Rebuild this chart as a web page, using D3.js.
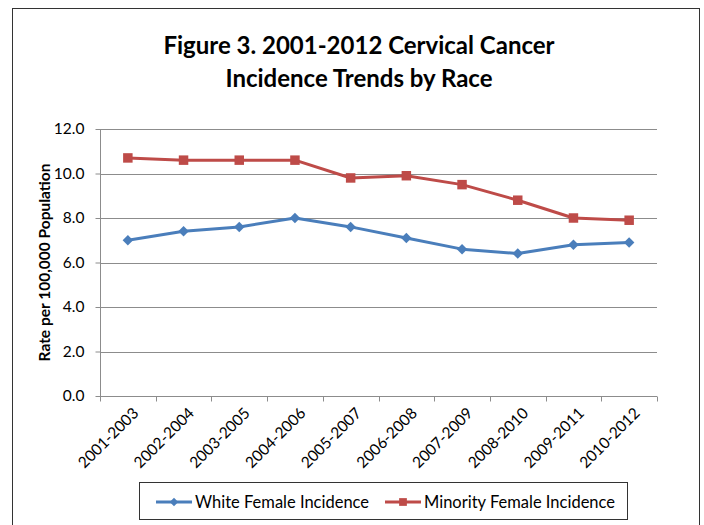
<!DOCTYPE html>
<html>
<head>
<meta charset="utf-8">
<script src="https://cdn.jsdelivr.net/npm/d3@7"></script>
<style>
  html, body { margin: 0; padding: 0; background: #fff; }
  svg { display: block; font-family: Lato, "Open Sans", sans-serif; }
</style>
</head>
<body>
<svg id="chart" width="704" height="525"></svg>
<script>
// Three-year rolling periods
const periods = ["2001-2003", "2002-2004", "2003-2005", "2004-2006", "2005-2007",
                 "2006-2008", "2007-2009", "2008-2010", "2009-2011", "2010-2012"];
// Incidence per 100,000
const whiteIncidence    = [7.0, 7.4, 7.6, 8.0, 7.6, 7.1, 6.6, 6.4, 6.8, 6.9];
const minorityIncidence = [10.7, 10.6, 10.6, 10.6, 9.8, 9.9, 9.5, 8.8, 8.0, 7.9];
const yTicks = [0, 2, 4, 6, 8, 10, 12];
const seriesNames = ["White Female Incidence", "Minority Female Incidence"];

const svg = d3.select("#chart");
const margin = { left: 100, right: 657, top: 129, bottom: 396 };

// Outer frame
svg.append("rect")
  .attr("x", 12.5).attr("y", 8.5).attr("width", 687).attr("height", 530)
  .attr("fill", "none").attr("stroke", "#333").attr("stroke-width", 1);

// Title
const title = svg.append("text")
  .attr("text-anchor", "middle")
  .attr("font-weight", "bold")
  .attr("font-size", 24)
  .attr("fill", "#000");
title.append("tspan").attr("x", 359).attr("y", 54).text("Figure 3. 2001-2012 Cervical Cancer");
title.append("tspan").attr("x", 359).attr("y", 87).text("Incidence Trends by Race");

const x = d3.scaleBand().domain(periods).range([margin.left, margin.right]);
const y = d3.scaleLinear().domain([0, 12]).range([margin.bottom, margin.top]);

// Horizontal gridlines
svg.append("g")
  .selectAll("line")
  .data(yTicks.filter(d => d > 0))
  .join("line")
  .attr("x1", margin.left).attr("x2", margin.right)
  .attr("y1", d => Math.round(y(d)) + 0.5).attr("y2", d => Math.round(y(d)) + 0.5)
  .attr("stroke", "#8c8c8c").attr("stroke-width", 1);

// Y axis
const yAxis = svg.append("g")
  .attr("transform", `translate(${margin.left + 0.5},0)`)
  .call(d3.axisLeft(y).tickValues(yTicks).tickFormat(d3.format(".1f")).tickSize(5).tickPadding(11));
yAxis.select(".domain").attr("stroke", "#8c8c8c").attr("d", `M0,${margin.top}V${margin.bottom}`);
yAxis.selectAll(".tick line").attr("stroke", "#8c8c8c");
yAxis.selectAll(".tick text").attr("font-size", 15.5).attr("fill", "#000")
  .attr("font-family", "Lato, sans-serif");

// X axis with ticks on category boundaries
const xg = svg.append("g")
  .attr("transform", `translate(0,${Math.round(y(0)) + 0.5})`);
xg.append("line")
  .attr("x1", margin.left).attr("x2", margin.right)
  .attr("stroke", "#8c8c8c");
const boundaries = periods.map(p => x(p)).concat([margin.right]);
xg.selectAll("line.tk")
  .data(boundaries)
  .join("line")
  .attr("class", "tk")
  .attr("x1", d => Math.round(d) + 0.5).attr("x2", d => Math.round(d) + 0.5)
  .attr("y1", 0).attr("y2", 5)
  .attr("stroke", "#8c8c8c");
xg.selectAll("text")
  .data(periods)
  .join("text")
  .attr("text-anchor", "end")
  .attr("font-size", 15.5)
  .attr("fill", "#000")
  .attr("transform", d => `translate(${x(d) + x.bandwidth() / 2 + 4},${10}) rotate(-45)`)
  .attr("dy", "0.7em")
  .text(d => d);

// Y axis title
svg.append("text")
  .attr("transform", `translate(50,${(margin.top + margin.bottom) / 2}) rotate(-90)`)
  .attr("text-anchor", "middle")
  .attr("font-weight", "bold")
  .attr("font-size", 15.5)
  .attr("fill", "#000")
  .text("Rate per 100,000 Population");

const cx = d => x(d) + x.bandwidth() / 2;
const line = d3.line().x((v, i) => cx(periods[i])).y(v => y(v));

const colors = ["#4a7ebb", "#be4b48"];
const diamond = d3.symbol().type(d3.symbolDiamond2).size(70);
const square = d3.symbol().type(d3.symbolSquare).size(90);

// White series
svg.append("path").datum(whiteIncidence)
  .attr("d", line).attr("fill", "none")
  .attr("stroke", colors[0]).attr("stroke-width", 3).attr("stroke-linejoin", "round");
svg.append("g").selectAll("path").data(whiteIncidence).join("path")
  .attr("transform", (v, i) => `translate(${cx(periods[i])},${y(v)})`)
  .attr("d", diamond).attr("fill", colors[0]);

// Minority series
svg.append("path").datum(minorityIncidence)
  .attr("d", line).attr("fill", "none")
  .attr("stroke", colors[1]).attr("stroke-width", 3).attr("stroke-linejoin", "round");
svg.append("g").selectAll("path").data(minorityIncidence).join("path")
  .attr("transform", (v, i) => `translate(${cx(periods[i])},${y(v)})`)
  .attr("d", square).attr("fill", colors[1]);

// Legend
const lg = svg.append("g");
lg.append("rect")
  .attr("x", 139.5).attr("y", 482.5).attr("width", 488).attr("height", 37)
  .attr("fill", "#fff").attr("stroke", "#333").attr("stroke-width", 1);
const items = [
  { name: seriesNames[0], color: colors[0], sym: d3.symbol().type(d3.symbolDiamond2).size(45), x: 156 },
  { name: seriesNames[1], color: colors[1], sym: d3.symbol().type(d3.symbolSquare).size(60), x: 385 }
];
items.forEach(it => {
  const g = lg.append("g").attr("transform", `translate(${it.x},502)`);
  g.append("line").attr("x1", 0).attr("x2", 36).attr("stroke", it.color).attr("stroke-width", 3);
  g.append("path").attr("transform", "translate(18,0)")
    .attr("d", it.sym()).attr("fill", it.color);
  g.append("text").attr("x", 39).attr("y", 0).attr("dy", "0.35em")
    .attr("font-size", 16.5).attr("fill", "#000").text(it.name);
});
</script>
</body>
</html>
